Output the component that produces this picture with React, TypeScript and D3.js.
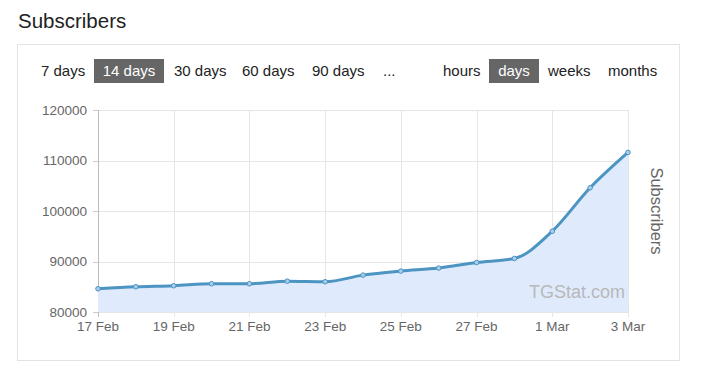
import React from "react";
import * as d3 from "d3";

const dates = ["17 Feb","18 Feb","19 Feb","20 Feb","21 Feb","22 Feb","23 Feb","24 Feb","25 Feb","26 Feb","27 Feb","28 Feb","1 Mar","2 Mar","3 Mar"];
const subscribers = [84600,85000,85200,85600,85600,86100,86000,87300,88100,88700,89800,90600,96000,104600,111600];
const yTicks = [80000,90000,100000,110000,120000];
const periodButtons = ["7 days","14 days","30 days","60 days","90 days","..."];
const unitButtons = ["hours","days","weeks","months"];
const periodX = [41,94,174,242,312,383];
const periodW = [45,70,58,58,58,20];
const unitX = [443,489,548,608];
const unitW = [40,50,50,52];

export default function App() {
  const W = 702, H = 376;
  const left = 98, right = 628, top = 110, bottom = 312;
  const x = d3.scaleLinear().domain([0, dates.length - 1]).range([left, right]);
  const y = d3.scaleLinear().domain([80000, 120000]).range([bottom, top]);
  const line = d3.line<number>().x((_, i) => x(i)).y(d => y(d)).curve(d3.curveMonotoneX);
  const area = d3.area<number>().x((_, i) => x(i)).y0(bottom).y1(d => y(d)).curve(d3.curveMonotoneX);
  const font = "Arial, 'Liberation Sans', Helvetica, sans-serif";
  return (
    <svg width={W} height={H} style={{ position: "absolute", left: 0, top: 0, fontFamily: font }}>
      <rect x={0} y={0} width={W} height={H} fill="#fff" />
      <text x={18} y={28} fontSize={20.5} fill="#222">Subscribers</text>
      <rect x={17.5} y={44.5} width={662} height={316} fill="#fff" stroke="#e3e3e3" />
      {periodButtons.map((b, i) => (
        <g key={b}>
          {b === "14 days" && <rect x={periodX[i]} y={59} width={periodW[i]} height={24} fill="#666" />}
          <text x={periodX[i] + (b === "14 days" ? periodW[i] / 2 : 0)} y={76} fontSize={15}
            textAnchor={b === "14 days" ? "middle" : "start"} fill={b === "14 days" ? "#fff" : "#222"}>{b}</text>
        </g>
      ))}
      {unitButtons.map((b, i) => (
        <g key={b}>
          {b === "days" && <rect x={unitX[i]} y={59} width={unitW[i]} height={24} fill="#666" />}
          <text x={unitX[i] + (b === "days" ? unitW[i] / 2 : 0)} y={76} fontSize={15}
            textAnchor={b === "days" ? "middle" : "start"} fill={b === "days" ? "#fff" : "#222"}>{b}</text>
        </g>
      ))}
      {yTicks.map(t => (
        <g key={t}>
          <line x1={left} x2={right} y1={Math.round(y(t)) + 0.5} y2={Math.round(y(t)) + 0.5} stroke="#e6e6e6" />
          <line x1={left - 5} x2={left} y1={Math.round(y(t)) + 0.5} y2={Math.round(y(t)) + 0.5} stroke="#ccc" />
          <text x={left - 11} y={y(t) + 4.5} fontSize={13.5} fill="#666" textAnchor="end">{t}</text>
        </g>
      ))}
      {dates.map((d, i) => i % 2 === 0 ? (
        <g key={d}>
          <line x1={Math.round(x(i)) + 0.5} x2={Math.round(x(i)) + 0.5} y1={top} y2={bottom + 5} stroke={i === 0 ? "#bbb" : "#e6e6e6"} />
          <text x={x(i)} y={bottom + 19} fontSize={13.5} fill="#666" textAnchor="middle">{d}</text>
        </g>
      ) : null)}
      <path d={area(subscribers) || ""} fill="#dfebfc" />
      <text x={625} y={298} fontSize={18} fill="#b8b8b8" textAnchor="end">TGStat.com</text>
      <path d={line(subscribers) || ""} fill="none" stroke="#4c94c2" strokeWidth={3} />
      {subscribers.map((v, i) => (
        <circle key={i} cx={x(i)} cy={y(v)} r={2.3} fill="#a9cdea" stroke="#4c94c2" strokeWidth={1} />
      ))}
      <text transform={`translate(651,211) rotate(90)`} fontSize={16.5} fill="#666" textAnchor="middle">Subscribers</text>
    </svg>
  );
}
